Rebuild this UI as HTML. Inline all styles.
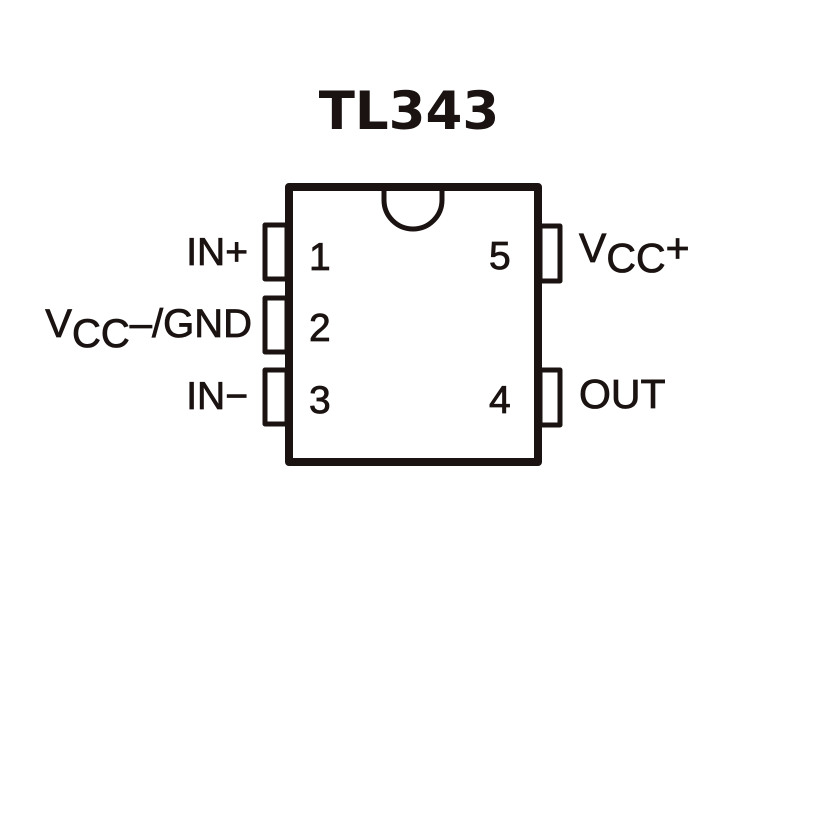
<!DOCTYPE html>
<html><head><style>
html,body{margin:0;padding:0;background:#fff;}
svg text{font-family:"Liberation Sans",Arial,sans-serif;fill:#1a1311;}
</style></head><body>
<svg width="827" height="827" viewBox="0 0 827 827" xmlns="http://www.w3.org/2000/svg">
<rect width="827" height="827" fill="#fff"/>
<text x="409" y="129" font-size="53" font-weight="bold" text-anchor="middle" style="font-family:'DejaVu Sans','Liberation Sans',sans-serif">TL343</text>
<g fill="none" stroke="#1a1311" stroke-linejoin="round">
<rect x="289" y="187" width="249" height="275" stroke-width="8"/>
<path d="M384 187 V200 A29 29 0 0 0 442 200 V187" stroke-width="5"/>
<g stroke-width="5">
<rect x="265" y="225" width="22" height="54"/>
<rect x="265" y="298" width="22" height="54"/>
<rect x="265" y="370" width="22" height="54"/>
<rect x="540" y="226" width="20" height="55"/>
<rect x="540" y="370" width="20" height="55"/>
</g>
</g>
<g font-size="39" stroke="#1a1311" stroke-width="0.8">
<text x="309" y="270">1</text>
<text x="309" y="341">2</text>
<text x="309" y="413">3</text>
<text x="489" y="269">5</text>
<text x="489" y="413">4</text>
<text x="248" y="265" text-anchor="end">IN+</text>
<text x="248" y="409" text-anchor="end">IN−</text>
<text x="252" y="337" text-anchor="end" font-size="40">V<tspan dy="10">CC</tspan><tspan dy="-10">–/GND</tspan></text>
<text x="579" y="262" font-size="41">V<tspan dy="10">CC</tspan><tspan dy="-10">+</tspan></text>
<text x="579" y="408" font-size="41">OUT</text>
</g>
</svg>
</body></html>
